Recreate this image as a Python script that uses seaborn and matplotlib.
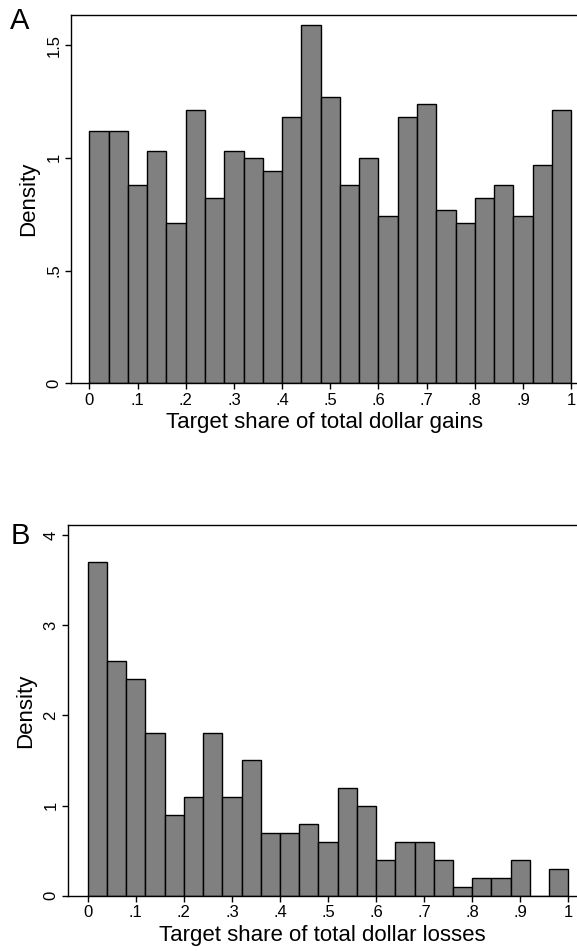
import numpy as np
import pandas as pd
import matplotlib
matplotlib.use("Agg")
import matplotlib.pyplot as plt
import seaborn as sns

# ---- data ----
bin_edges_a = [0.0, 0.04, 0.08, 0.12, 0.16, 0.20, 0.24, 0.28, 0.32, 0.36, 0.40, 0.44, 0.48,
               0.52, 0.56, 0.60, 0.64, 0.68, 0.72, 0.76, 0.80, 0.84, 0.88, 0.92, 0.96, 1.00]
density_gains = [1.12, 1.12, 0.88, 1.03, 0.71, 1.21, 0.82, 1.03, 1.00, 0.94, 1.18, 1.59, 1.27,
                 0.88, 1.00, 0.74, 1.18, 1.24, 0.77, 0.71, 0.82, 0.88, 0.74, 0.97, 1.21]
density_losses = [3.7, 2.6, 2.4, 1.8, 0.9, 1.1, 1.8, 1.1, 1.5, 0.7, 0.7, 0.8, 0.6,
                  1.2, 1.0, 0.4, 0.6, 0.6, 0.4, 0.1, 0.2, 0.2, 0.4, 0.0, 0.3]
x_ticks = [0, 0.1, 0.2, 0.3, 0.4, 0.5, 0.6, 0.7, 0.8, 0.9, 1.0]
x_tick_labels = ["0", ".1", ".2", ".3", ".4", ".5", ".6", ".7", ".8", ".9", "1"]
y_ticks_a = [0, 0.5, 1.0, 1.5]
y_tick_labels_a = ["0", ".5", "1", "1.5"]
y_ticks_b = [0, 1, 2, 3, 4]
y_tick_labels_b = ["0", "1", "2", "3", "4"]
xlabel_a = "Target share of total dollar gains"
xlabel_b = "Target share of total dollar losses"

sns.set_theme(style="white")
plt.rcParams["font.family"] = ["Liberation Sans", "DejaVu Sans"]
plt.rcParams["text.color"] = "black"
plt.rcParams["axes.labelcolor"] = "black"
plt.rcParams["xtick.color"] = "black"
plt.rcParams["ytick.color"] = "black"

centers = [(bin_edges_a[i] + bin_edges_a[i + 1]) / 2 for i in range(len(bin_edges_a) - 1)]
df_a = pd.DataFrame({"x": centers, "w": density_gains})
df_b = pd.DataFrame({"x": centers, "w": density_losses})

fig = plt.figure(figsize=(5.77, 9.51), dpi=100)
ax_a = fig.add_axes([0.1231, 0.5970, 0.8769, 0.3872])
ax_b = fig.add_axes([0.1179, 0.0581, 0.8821, 0.3898])

panels = [
    (ax_a, df_a, (-0.038, 1.012), (0, 1.633), y_ticks_a, y_tick_labels_a, xlabel_a),
    (ax_b, df_b, (-0.041, 1.018), (0, 4.11), y_ticks_b, y_tick_labels_b, xlabel_b),
]

for ax, df, xl, yl, yt, ytl, xlab in panels:
    sns.histplot(data=df, x="x", weights="w", bins=bin_edges_a, stat="count",
                 color="#808080", edgecolor="black", linewidth=1.0, alpha=1.0, ax=ax)
    ax.set_xlim(*xl)
    ax.set_ylim(*yl)
    ax.set_xticks(x_ticks)
    ax.set_xticklabels(x_tick_labels, fontsize=12, color="black")
    ax.set_yticks(yt)
    ax.set_yticklabels(ytl, fontsize=12, rotation=90, va="center", color="black")
    ax.tick_params(axis="both", direction="out", length=4, width=1, color="black",
                   left=True, bottom=True, pad=3)
    for side in ["left", "bottom", "top"]:
        ax.spines[side].set_visible(True)
        ax.spines[side].set_color("black")
        ax.spines[side].set_linewidth(1.0)
    ax.spines["right"].set_visible(False)
    ax.set_xlabel(xlab, fontsize=16, labelpad=3, color="black")
    ax.set_ylabel("Density", fontsize=16, labelpad=5, color="black")
    ax.grid(False)

fig.text(0.018, 0.978, "A", fontsize=21, ha="left", va="center", color="black")
fig.text(0.018, 0.436, "B", fontsize=21, ha="left", va="center", color="black")

fig.savefig("out.png", dpi=100)
